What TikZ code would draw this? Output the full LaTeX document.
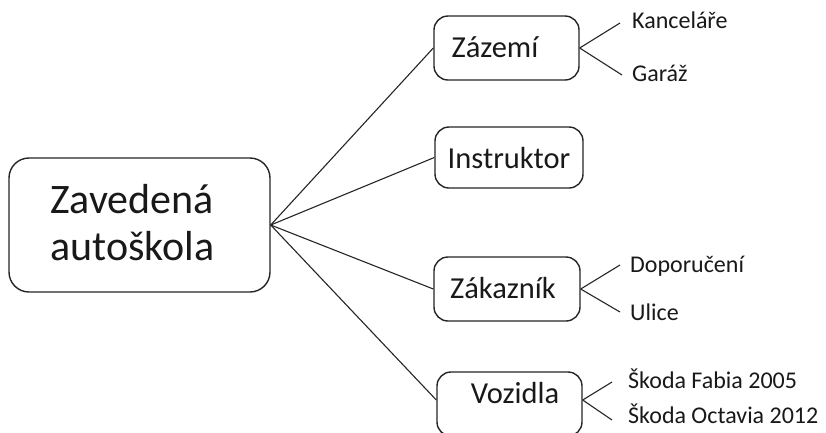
\documentclass[tikz,border=0pt]{standalone}
\usepackage{fontspec}
\setmainfont{Carlito}
\begin{document}
\begin{tikzpicture}[x=1pt,y=-1pt,
 box/.style={draw=black!85, line width=1.4pt, rounded corners=14pt, inner sep=0pt},
 conn/.style={draw=black!85, line width=1.1pt},
 bigtxt/.style={font=\fontsize{42}{47}\selectfont, align=left, inner sep=0pt, text=black!90, anchor=base west},
 midtxt/.style={font=\fontsize{30.5}{34}\selectfont, inner sep=0pt, text=black!90, anchor=base},
 leaf/.style={font=\fontsize{24}{28}\selectfont, inner sep=0pt, anchor=base west, text=black!90}]
\useasboundingbox (0,0) rectangle (826,432);
\clip (0,0) rectangle (826,432);
\fill[white] (0,0) rectangle (826,432);
% root
\node[box, rounded corners=20pt, minimum width=261pt, minimum height=134pt] (root) at (139.5,225) {};
\node[bigtxt] (roott) at (50,260) {Zavedená\\autoškola};
% children
\node[box, minimum width=145pt, minimum height=64pt] (zaz) at (506.5,48) {};
\node[midtxt] (zazt) at (495,57) {Zázemí};
\node[box, minimum width=148pt, minimum height=61pt] (ins) at (509,157.5) {};
\node[midtxt] (inst) at (509,168) {Instruktor};
\node[box, minimum width=146pt, minimum height=64pt] (zak) at (507,289) {};
\node[midtxt] (zakt) at (503,298) {Zákazník};
\node[box, minimum width=145pt, minimum height=64pt] (voz) at (509.5,404) {};
\node[midtxt] (vozt) at (515,403) {Vozidla};
% leaves
\node[leaf] (kan) at (632,28) {Kanceláře};
\node[leaf] (gar) at (632,81) {Garáž};
\node[leaf] (dop) at (630,272) {Doporučení};
\node[leaf] (uli) at (630,320) {Ulice};
\node[leaf] (fab) at (628,388) {Škoda Fabia 2005};
\node[leaf] (oct) at (628,423) {Škoda Octavia 2012};
% free ends
\coordinate (ekan) at (620,23);
\coordinate (egar) at (622,75);
\coordinate (edop) at (620,265);
\coordinate (euli) at (620,312);
\coordinate (efab) at (612,382);
\coordinate (eoct) at (612,420);
% connectors
\draw[conn] (root.east) -- (zaz.west);
\draw[conn] (root.east) -- (ins.west);
\draw[conn] (root.east) -- (zak.west);
\draw[conn] (root.east) -- ([yshift=4pt]voz.west);
\draw[conn] (zaz.east) -- (ekan);
\draw[conn] (zaz.east) -- (egar);
\draw[conn] (zak.east) -- (edop);
\draw[conn] (zak.east) -- (euli);
\draw[conn] ([yshift=4pt]voz.east) -- (efab);
\draw[conn] ([yshift=4pt]voz.east) -- (eoct);
\end{tikzpicture}
\end{document}
